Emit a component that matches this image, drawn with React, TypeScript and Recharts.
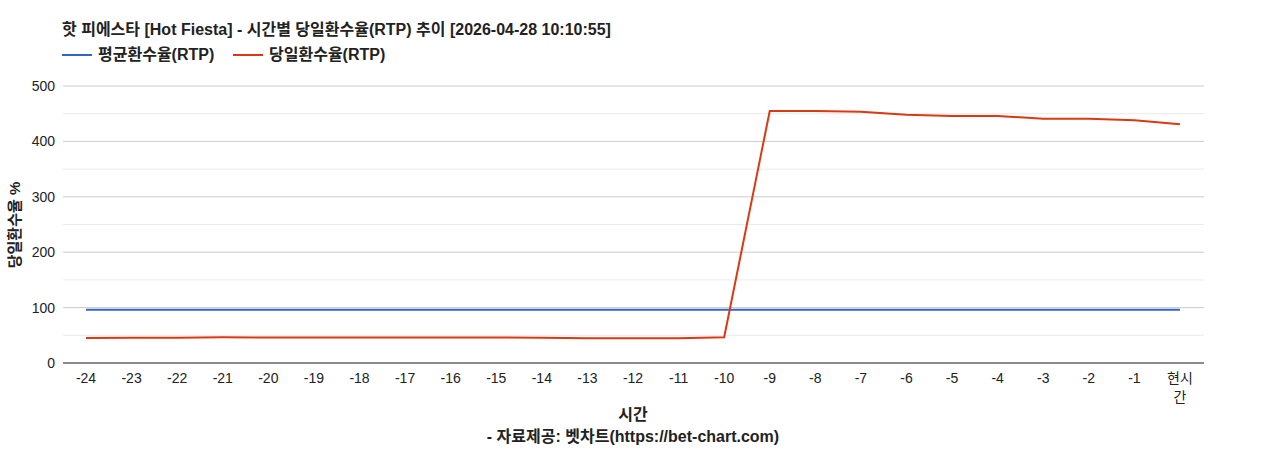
import { LineChart, Line, XAxis, YAxis, CartesianGrid, ReferenceLine } from "recharts";

const hours = [
  "-24", "-23", "-22", "-21", "-20", "-19", "-18", "-17", "-16", "-15", "-14", "-13",
  "-12", "-11", "-10", "-9", "-8", "-7", "-6", "-5", "-4", "-3", "-2", "-1", "현시간",
];
const avgRtp = [
  96, 96, 96, 96, 96, 96, 96, 96, 96, 96, 96, 96, 96, 96, 96, 96, 96, 96, 96, 96, 96, 96, 96, 96, 96,
];
const dayRtp = [
  45, 45.5, 45.8, 46.5, 46, 46, 46, 46, 46, 46, 45.5, 44.8, 44.5, 44.5, 46.5,
  455, 455, 453.5, 448, 446, 446, 441, 441, 438, 431,
];
const majorTicks = [0, 100, 200, 300, 400, 500];
const minorLines = [50, 150, 250, 350, 450];

const data = hours.map((h, i) => ({ hour: h, avg: avgRtp[i], day: dayRtp[i] }));

const FONT = '"Liberation Sans", Arial, "Noto Sans CJK KR", sans-serif';

// non-numeric labels (현시간) wrap after two characters, like the original
const HourTick = (props: any) => {
  const { x, y, payload } = props;
  const label: string = payload.value;
  const lines = isNaN(Number(label)) && label.length > 2 ? [label.slice(0, 2), label.slice(2)] : [label];
  return (
    <text x={x} y={y + 2} textAnchor="middle" fill="#222" fontSize={14} fontFamily={FONT}>
      {lines.map((l, i) => (
        <tspan key={i} x={x} dy={i === 0 ? "0.71em" : 19}>
          {l}
        </tspan>
      ))}
    </text>
  );
};

const LegendItem = ({ color, label, left }: { color: string; label: string; left: number }) => (
  <div style={{ position: "absolute", left, top: 45, height: 20, display: "flex", alignItems: "center" }}>
    <div style={{ width: 30, height: 2, background: color, marginRight: 6 }} />
    <span style={{ fontSize: 16, lineHeight: "20px", fontWeight: "bold", color: "#222" }}>{label}</span>
  </div>
);

const textStyle = { fontSize: 16, lineHeight: "20px", fontWeight: "bold" as const, color: "#222" };

export default function App() {
  return (
    <div
      style={{
        position: "absolute",
        left: 0,
        top: 0,
        width: 1268,
        height: 450,
        background: "#fff",
        fontFamily: FONT,
      }}
    >
      <div style={{ ...textStyle, position: "absolute", left: 62, top: 20 }}>
        핫 피에스타 [Hot Fiesta] - 시간별 당일환수율(RTP) 추이 [2026-04-28 10:10:55]
      </div>
      <LegendItem color="#3366cc" label="평균환수율(RTP)" left={62} />
      <LegendItem color="#dc3912" label="당일환수율(RTP)" left={233} />
      <LineChart
        width={1268}
        height={450}
        data={data}
        margin={{ top: 86, right: 64, bottom: 0, left: 0 }}
      >
        <CartesianGrid vertical={false} stroke="#cccccc" />
        {minorLines.map((v) => (
          <ReferenceLine key={v} y={v} stroke="#ebebeb" />
        ))}
        <XAxis
          dataKey="hour"
          tick={<HourTick />}
          tickLine={false}
          axisLine={{ stroke: "#333" }}
          interval={0}
          height={87}
          padding={{ left: 23, right: 24 }}
        />
        <YAxis
          width={63}
          domain={[0, 500]}
          ticks={majorTicks}
          tickLine={false}
          axisLine={false}
          tick={{ fill: "#222", fontSize: 14, fontFamily: FONT }}
        />
        <Line
          dataKey="avg"
          stroke="#3366cc"
          strokeWidth={2}
          dot={false}
          type="linear"
          isAnimationActive={false}
        />
        <Line
          dataKey="day"
          stroke="#dc3912"
          strokeWidth={2}
          dot={false}
          type="linear"
          isAnimationActive={false}
        />
      </LineChart>
      <div
        style={{
          ...textStyle,
          fontSize: 15,
          position: "absolute",
          left: 15,
          top: 225,
          transform: "translate(-50%, -50%) rotate(-90deg)",
          whiteSpace: "nowrap",
        }}
      >
        당일환수율 %
      </div>
      <div style={{ ...textStyle, position: "absolute", left: 0, width: 1266, top: 405, textAlign: "center" }}>
        시간
      </div>
      <div style={{ ...textStyle, position: "absolute", left: 0, width: 1266, top: 427, textAlign: "center" }}>
        - 자료제공: 벳차트(https://bet-chart.com)
      </div>
    </div>
  );
}
